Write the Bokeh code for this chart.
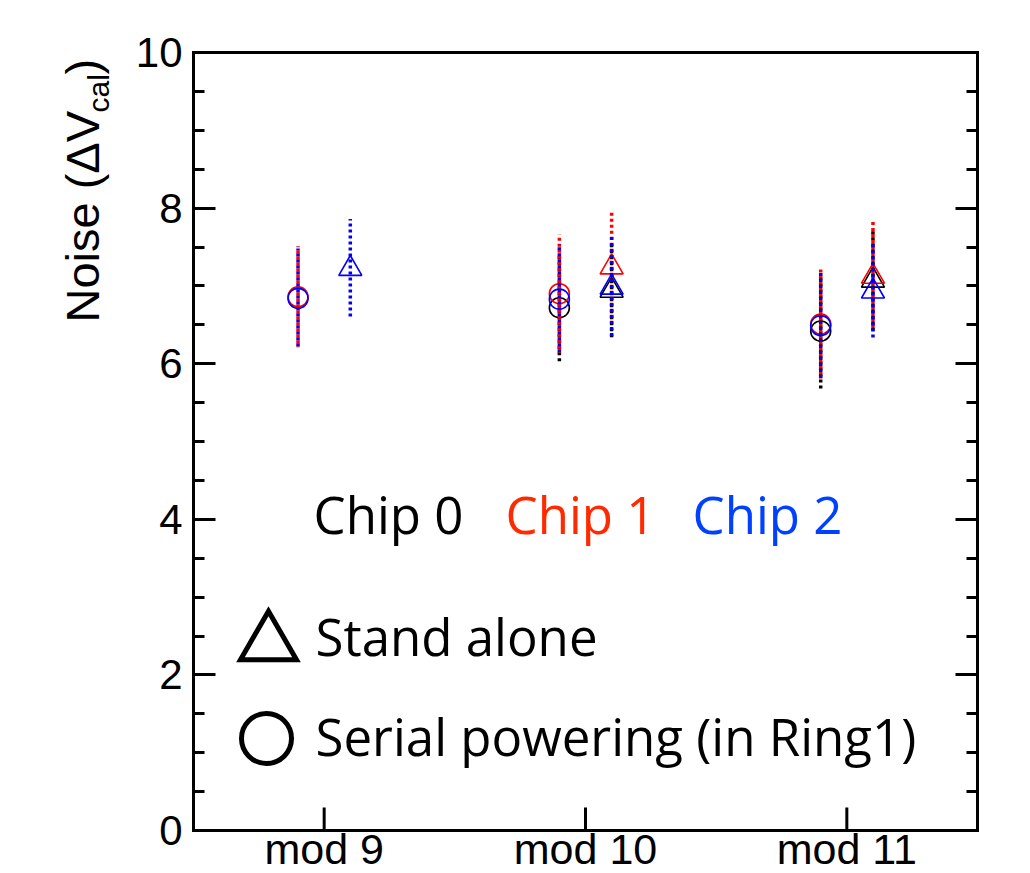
from bokeh.plotting import figure
from bokeh.layouts import row, column
from bokeh.models import Range1d, LinearAxis, FixedTicker, Label, ColumnDataSource, Span
from bokeh.embed import file_html
from bokeh.resources import INLINE

# ---------------- data ----------------
categories = ["mod 9", "mod 10", "mod 11"]
chips = ["Chip 0", "Chip 1", "Chip 2"]

# Serial powering (in Ring1)  -> circles
serial_chip0 = [None, 6.72, 6.42]
serial_chip0_err = [None, 0.69, 0.74]
serial_chip1 = [6.86, 6.90, 6.51]
serial_chip1_err = [0.65, 0.76, 0.70]
serial_chip2 = [6.84, 6.83, 6.49]
serial_chip2_err = [0.64, 0.71, 0.70]

# Stand alone -> triangles
alone_chip0 = [None, 6.94, 7.07]
alone_chip0_err = [None, 0.60, 0.64]
alone_chip1 = [None, 7.24, 7.12]
alone_chip1_err = [None, 0.70, 0.70]
alone_chip2 = [7.22, 6.98, 6.93]
alone_chip2_err = [0.64, 0.65, 0.62]

y_ticks = [0, 2, 4, 6, 8, 10]
y_minor_ticks = [0.5, 1, 1.5, 2.5, 3, 3.5, 4.5, 5, 5.5, 6.5, 7, 7.5, 8.5, 9, 9.5]

# ---------------- styles / layout ----------------
marker_colors = ["#000000", "#ff0000", "#0000ff"]
text_colors = ["#000000", "#ff2a00", "#0040ff"]
SANS = "Liberation Sans"
TEXT = "Open Sans"
MID_SANS = 0.3465   # (ascent - descent) / 2 in em, Liberation Sans
MID_TEXT = 0.388    # same for Open Sans

PAGE_W, PAGE_H = 1030, 873
F_LEFT, F_TOP, F_RIGHT, F_BOTTOM = 193, 52, 977, 830   # plot box on the page
LW = 183                 # width of the left strip (y tick labels and title)
Y_PER_PX = 10.0 / (F_BOTTOM - F_TOP)
X_PER_PX = 3.0 / (F_RIGHT - F_LEFT)


def dx(px):  # page pixel -> data x
    return 0.5 + (px - F_LEFT) * X_PER_PX


def dy(py):  # page pixel -> data y
    return (F_BOTTOM - py) * Y_PER_PX


y_view = Range1d(dy(PAGE_H), 10)   # drawing area reaches the page bottom

# ---------------- main plot ----------------
p = figure(width=PAGE_W - LW, height=PAGE_H, x_range=Range1d(0.5, 3.5), y_range=y_view,
           output_backend="svg", toolbar_location=None,
           x_axis_location=None, y_axis_location=None,
           min_border_left=F_LEFT - LW, min_border_top=F_TOP,
           min_border_right=PAGE_W - F_RIGHT, min_border_bottom=0)
p.xgrid.visible = False
p.ygrid.visible = False
p.outline_line_color = None
p.background_fill_color = "white"
p.border_fill_color = "white"


def side_axis(ticks, minor, bounds):
    return LinearAxis(ticker=FixedTicker(ticks=ticks, minor_ticks=minor),
                      bounds=bounds,
                      major_tick_in=22, major_tick_out=0,
                      minor_tick_in=11, minor_tick_out=0,
                      major_tick_line_width=3, minor_tick_line_width=3,
                      axis_line_color="black", axis_line_width=3,
                      axis_line_cap="square",
                      major_label_overrides={t: "" for t in ticks},
                      major_label_text_font_size="1px", major_label_standoff=0)


p.add_layout(side_axis(y_ticks, y_minor_ticks, (0, 10)), "left")
p.add_layout(side_axis(y_ticks, y_minor_ticks, (0, 10)), "right")
p.add_layout(side_axis([], [], "auto"), "above")

# bottom edge of the box and category ticks
p.add_layout(Span(location=0, dimension="width", line_color="black", line_width=3))
cat_x = [i + 1 for i in range(len(categories))]
p.segment(x0=cat_x, y0=[0] * len(cat_x), x1=cat_x, y1=[23 * Y_PER_PX] * len(cat_x),
          line_color="black", line_width=3)


def series(vals, errs, offset):
    xs, ys, lo, hi = [], [], [], []
    for i, (v, e) in enumerate(zip(vals, errs)):
        if v is None:
            continue
        xs.append(i + 1 + offset)
        ys.append(v)
        lo.append(v - e)
        hi.append(v + e)
    return ColumnDataSource(dict(x=xs, y=ys, lo=lo, hi=hi))


serial = [(serial_chip0, serial_chip0_err), (serial_chip1, serial_chip1_err),
          (serial_chip2, serial_chip2_err)]
alone = [(alone_chip0, alone_chip0_err), (alone_chip1, alone_chip1_err),
         (alone_chip2, alone_chip2_err)]

for k in range(3):
    for (vals, errs), off, marker, size in ((serial[k], -0.1, "circle", 20),
                                            (alone[k], 0.1, "triangle", 23)):
        src = series(vals, errs, off)
        p.segment(x0="x", y0="lo", x1="x", y1="hi", source=src,
                  line_color=marker_colors[k], line_width=3.5,
                  line_dash="3 3", line_dash_offset=2 * k)
        p.scatter(x="x", y="y", source=src, marker=marker, size=size,
                  fill_color=None, line_color=marker_colors[k], line_width=1.6)

# chip legend text
for k, cx in enumerate([388, 580, 767]):
    p.add_layout(Label(x=dx(cx), y=dy(533 - MID_TEXT * 51), text=chips[k],
                       text_align="center", text_baseline="middle", text_font=TEXT,
                       text_font_size="51px", text_color=text_colors[k]))

# marker legend
p.scatter(x=[dx(268)], y=[dy(643)], marker="triangle", size=56, line_width=5,
          line_join="miter", fill_color=None, line_color="black")
p.scatter(x=[dx(266)], y=[dy(738)], marker="circle", size=50, line_width=5,
          fill_color=None, line_color="black")
p.add_layout(Label(x=dx(315), y=dy(655 - MID_TEXT * 51), text="Stand alone",
                   text_font=TEXT, text_font_size="51px", text_baseline="middle",
                   text_color="black"))
p.add_layout(Label(x=dx(315), y=dy(755 - MID_TEXT * 51),
                   text="Serial powering (in Ring1)", text_font=TEXT,
                   text_font_size="51px", text_baseline="middle",
                   text_color="black"))

# category names under the box
for i, cat in enumerate(categories):
    p.add_layout(Label(x=cat_x[i], y=dy(863.5 - MID_SANS * 43), text=cat,
                       text_align="center", text_baseline="middle",
                       text_font=SANS, text_font_size="43px", text_color="black"))

# ---------------- left strip: y tick labels and y title ----------------
left = figure(width=LW, height=PAGE_H, x_range=Range1d(0, LW),
              y_range=Range1d(dy(PAGE_H), dy(0)), output_backend="svg",
              toolbar_location=None, x_axis_location=None, y_axis_location=None,
              min_border=0)
left.xgrid.visible = False
left.ygrid.visible = False
left.outline_line_color = None
left.background_fill_color = "white"
left.border_fill_color = "white"

for t in y_ticks:
    left.add_layout(Label(x=182, y=t, text=str(t), text_align="right",
                          text_baseline="middle", text_font=SANS,
                          text_font_size="42px", text_color="black"))

left.add_layout(Label(x=98 - MID_SANS * 47, y=dy(322), text="Noise (\u0394V",
                      angle=90, angle_units="deg", text_font=SANS,
                      text_font_size="47px", text_baseline="middle",
                      text_color="black"))
left.add_layout(Label(x=108 - MID_SANS * 30, y=dy(112), text="cal",
                      angle=90, angle_units="deg", text_font=SANS,
                      text_font_size="30px", text_baseline="middle",
                      text_color="black"))
left.add_layout(Label(x=98 - MID_SANS * 47, y=dy(74), text=")",
                      angle=90, angle_units="deg", text_font=SANS,
                      text_font_size="47px", text_baseline="middle",
                      text_color="black"))

# the column wrapper keeps the two canvases from aligning their borders
layout = row(left, column(p, spacing=0), spacing=0)
open("out.html", "w").write(file_html(layout, INLINE))
